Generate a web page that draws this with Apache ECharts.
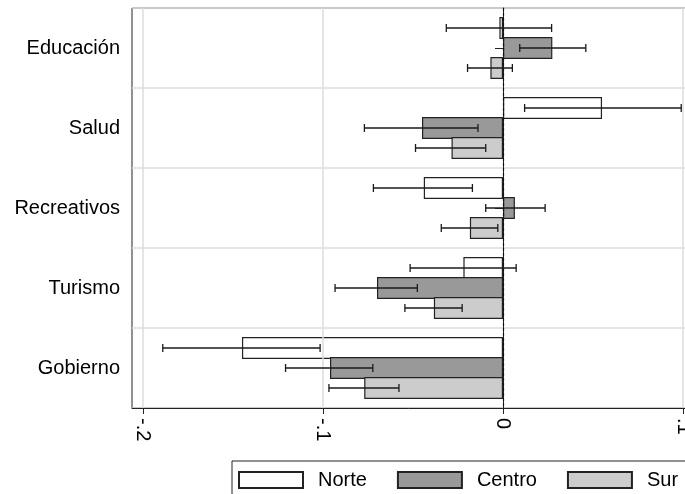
<!DOCTYPE html>
<html><head><meta charset="utf-8">
<script src="https://cdn.jsdelivr.net/npm/echarts@6/dist/echarts.min.js"></script>
<style>html,body{margin:0;padding:0;background:#fff}#c{width:685px;height:494px}</style>
</head><body><div id="c"></div>
<script>
const categories = ['Educación', 'Salud', 'Recreativos', 'Turismo', 'Gobierno'];
const seriesNames = ['Norte', 'Centro', 'Sur'];
const norte = [-0.002, 0.055, -0.044, -0.022, -0.145];
const norteLow = [-0.0315, 0.012, -0.072, -0.0516, -0.189];
const norteHigh = [0.027, 0.099, -0.017, 0.0073, -0.1016];
const centro = [0.0274, -0.045, 0.0066, -0.070, -0.0961];
const centroLow = [0.0093, -0.077, -0.0096, -0.0933, -0.1208];
const centroHigh = [0.046, -0.0139, 0.0234, -0.0476, -0.0723];
const sur = [-0.007, -0.0286, -0.0184, -0.0384, -0.0771];
const surLow = [-0.0197, -0.0486, -0.0343, -0.0545, -0.0967];
const surHigh = [0.0052, -0.0096, -0.0029, -0.0227, -0.0578];
const tickValues = [-0.2, -0.1, 0, 0.1];
const tickLabels = ['-.2', '-.1', '0', '.1'];

const FONT = '"Liberation Sans", Arial, sans-serif';
const fills = ['#ffffff', '#999999', '#cccccc'];
const BAR_W = 22, BAR_GAP = -2;
const values = [norte, centro, sur];
const lows = [norteLow, centroLow, surLow];
const highs = [norteHigh, centroHigh, surHigh];

function errRender(offset) {
  return function (params, api) {
    const cat = api.value(0);
    const lo = api.coord([api.value(1), cat]);
    const hi = api.coord([api.value(2), cat]);
    const y = lo[1] + offset;
    const cap = 4;
    const st = { stroke: '#1a1a1a', lineWidth: 1.3 };
    return {
      type: 'group', children: [
        { type: 'line', shape: { x1: lo[0], y1: y, x2: hi[0], y2: y }, style: st },
        { type: 'line', shape: { x1: lo[0], y1: y - cap, x2: lo[0], y2: y + cap }, style: st },
        { type: 'line', shape: { x1: hi[0], y1: y - cap, x2: hi[0], y2: y + cap }, style: st }
      ]
    };
  };
}

const series = [];
seriesNames.forEach((name, i) => {
  series.push({
    name: name, type: 'bar', z: 3,
    barWidth: BAR_W, barGap: (BAR_GAP / BAR_W * 100) + '%',
    data: values[i],
    itemStyle: { color: fills[i], borderColor: '#222', borderWidth: 1.2 },
    emphasis: { disabled: true }, animation: false
  });
});
seriesNames.forEach((name, i) => {
  series.push({
    name: name + '_ci', type: 'custom', z: 5,
    renderItem: errRender((i - 1) * (BAR_W + BAR_GAP)),
    encode: { x: [1, 2], y: 0 },
    data: categories.map((c, k) => [k, lows[i][k], highs[i][k]]),
    animation: false, silent: true
  });
});
series.push({
  name: 'grid', type: 'line', z: 1, data: [], silent: true,
  markLine: {
    symbol: 'none', silent: true, animation: false, label: { show: false },
    data: tickValues.map(v => ({
      xAxis: v,
      lineStyle: v === 0 ? { color: '#111', width: 1.2, type: [3, 2] } : { color: '#dcdcdc', width: 1.5, type: 'solid' }
    }))
  }
});

const chart = echarts.init(document.getElementById('c'));
chart.setOption({
  animation: false,
  backgroundColor: '#fff',
  textStyle: { fontFamily: FONT },
  grid: {
    left: 132, top: 8, width: 562, height: 400, outerBoundsMode: 'none', containLabel: false,
    show: true, borderColor: '#222', borderWidth: 1, backgroundColor: '#fff'
  },
  legend: {
    data: seriesNames, left: 232, top: 461, width: 700, icon: 'rect',
    itemWidth: 64, itemHeight: 16, itemGap: 30,
    padding: [9, 40, 9, 6], borderColor: '#222', borderWidth: 1,
    textStyle: { fontSize: 20, color: '#000', fontFamily: FONT, padding: [0, 0, 0, 10] },
    selectedMode: false
  },
  xAxis: {
    type: 'value', min: -0.2061, max: 0.1061,
    axisLine: { show: true, onZero: false, lineStyle: { color: '#222', width: 1 } },
    axisTick: { show: true, customValues: tickValues, length: 6, lineStyle: { color: '#222' } },
    axisLabel: {
      customValues: tickValues, rotate: -90, margin: 10, fontSize: 20, color: '#000', fontFamily: FONT,
      formatter: v => tickLabels[tickValues.findIndex(t => Math.abs(t - v) < 1e-9)]
    },
    splitLine: { show: false }
  },
  yAxis: {
    type: 'category', data: categories, inverse: true,
    axisLine: { show: true, lineStyle: { color: '#222', width: 1 } },
    axisTick: { show: true, alignWithLabel: true, length: 8, lineStyle: { color: '#222' } },
    axisLabel: { fontSize: 20, color: '#000', margin: 12, fontFamily: FONT },
    splitLine: { show: true, lineStyle: { color: '#dcdcdc', width: 1.5 } }
  },
  series: series
});
</script></body></html>
